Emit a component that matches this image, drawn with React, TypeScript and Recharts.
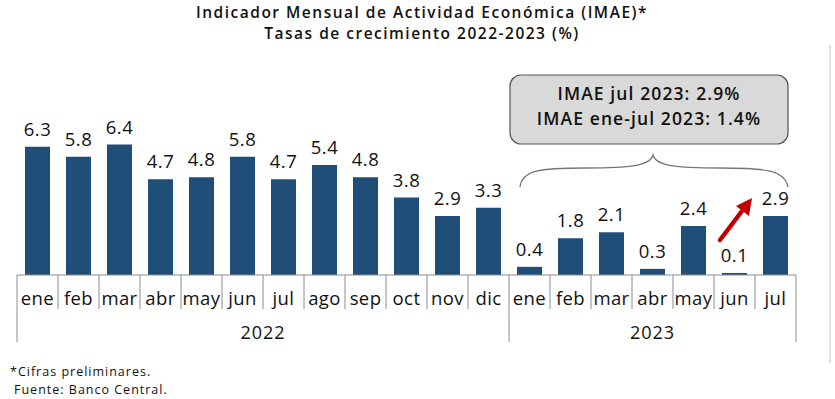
import React from "react"
import { BarChart, Bar, XAxis, YAxis, LabelList } from "recharts"

const meses2022 = ["ene", "feb", "mar", "abr", "may", "jun", "jul", "ago", "sep", "oct", "nov", "dic"]
const tasas2022 = [6.3, 5.8, 6.4, 4.7, 4.8, 5.8, 4.7, 5.4, 4.8, 3.8, 2.9, 3.3]
const meses2023 = ["ene", "feb", "mar", "abr", "may", "jun", "jul"]
const tasas2023 = [0.4, 1.8, 2.1, 0.3, 2.4, 0.1, 2.9]
const anios = ["2022", "2023"]

const data = [
  ...meses2022.map((mes, i) => ({ key: `2022-${mes}`, mes, anio: anios[0], tasa: tasas2022[i] })),
  ...meses2023.map((mes, i) => ({ key: `2023-${mes}`, mes, anio: anios[1], tasa: tasas2023[i] })),
]

const W = 835
const H = 399
const M = { top: 112, right: 39, left: 17, bottom: 54 }
const AXIS_H = 70
const BASE_Y = H - M.bottom - AXIS_H
const STEP = (W - M.left - M.right) / data.length
const FONT = "'Open Sans', sans-serif"
const BAR = "#1f4e79"

function MesTick(props: any) {
  const { x, index, payload } = props
  const left = x - STEP / 2
  const row = data[index]
  const firstOfYear = index === 0 || data[index - 1].anio !== row.anio
  const last = index === data.length - 1
  const count = data.filter((d) => d.anio === row.anio).length
  return (
    <g>
      <line
        x1={left}
        x2={left}
        y1={BASE_Y}
        y2={firstOfYear ? BASE_Y + 67 : BASE_Y + 34}
        stroke="#8c8c8c"
        strokeWidth={1}
      />
      {last && (
        <line x1={left + STEP} x2={left + STEP} y1={BASE_Y} y2={BASE_Y + 67} stroke="#8c8c8c" strokeWidth={1} />
      )}
      <text
        x={x}
        y={BASE_Y + 30}
        textAnchor="middle"
        fontSize={18.5}
        fontFamily={FONT}
        fontWeight={500}
        letterSpacing={0.4}
        fill="#111"
      >
        {row ? row.mes : payload.value}
      </text>
      {firstOfYear && (
        <text
          x={left + (count * STEP) / 2}
          y={BASE_Y + 64}
          textAnchor="middle"
          fontSize={18}
          fontFamily={FONT}
          fontWeight={500}
          letterSpacing={1}
          fill="#111"
        >
          {row.anio}
        </text>
      )}
    </g>
  )
}

function ValorLabel(props: any) {
  const { x, y, width, value } = props
  return (
    <text
      x={x + width / 2}
      y={y - 11}
      textAnchor="middle"
      fontSize={18.5}
      fontFamily={FONT}
      fontWeight={500}
      letterSpacing={0.5}
      fill="#111"
    >
      {Number(value).toFixed(1)}
    </text>
  )
}

export default function App() {
  const title = { textAnchor: "middle" as const, fontSize: 15.5, fontFamily: FONT, fontWeight: 600, letterSpacing: 1.5, fill: "#111" }
  const nota = { textAnchor: "middle" as const, fontSize: 17.5, fontFamily: FONT, fontWeight: 600, letterSpacing: 1.1, fill: "#111" }
  const fuente = { fontSize: 12.5, fontFamily: FONT, letterSpacing: 1, fill: "#111" }
  return (
    <div style={{ position: "absolute", left: 0, top: 0, width: W, height: H, background: "#fff" }}>
      <BarChart width={W} height={H} data={data} margin={M}>
        <XAxis
          dataKey="key"
          height={AXIS_H}
          interval={0}
          tickLine={false}
          axisLine={{ stroke: "#8c8c8c" }}
          tick={<MesTick />}
        />
        <YAxis hide domain={[0, 8]} />
        <Bar dataKey="tasa" fill={BAR} barSize={25} isAnimationActive={false}>
          <LabelList dataKey="tasa" content={<ValorLabel />} />
        </Bar>
      </BarChart>
      <svg width={W} height={H} style={{ position: "absolute", left: 0, top: 0, pointerEvents: "none" }}>
        <text x={422} y={17.5} {...title}>
          Indicador Mensual de Actividad Económica (IMAE)*
        </text>
        <text x={422} y={39} {...title}>
          Tasas de crecimiento 2022-2023 (%)
        </text>
        <line x1={830} x2={830} y1={45} y2={363} stroke="#e3e3e3" strokeWidth={2} />
        <rect x={510} y={75} width={278} height={69} rx={11} fill="#d9d9d9" stroke="#555" strokeWidth={1.2} />
        <text x={649} y={100} {...nota}>
          IMAE jul 2023: 2.9%
        </text>
        <text x={649} y={124.5} {...nota}>
          IMAE ene-jul 2023: 1.4%
        </text>
        <path
          d="M520 187 C522 170 540 168 585 168 C630 168 650 166 653 155 C656 166 676 168 720 168 C765 168 785 170 788 187"
          fill="none"
          stroke="#777"
          strokeWidth={1.3}
        />
        <line x1={720} y1={240} x2={742} y2={211} stroke="#c00000" strokeWidth={4.5} strokeLinecap="round" />
        <polygon points="752,198 736,206 749,216" fill="#c00000" />
        <text x={10} y={376} {...fuente}>
          *Cifras preliminares.
        </text>
        <text x={14} y={393.5} {...fuente}>
          Fuente: Banco Central.
        </text>
      </svg>
    </div>
  )
}
